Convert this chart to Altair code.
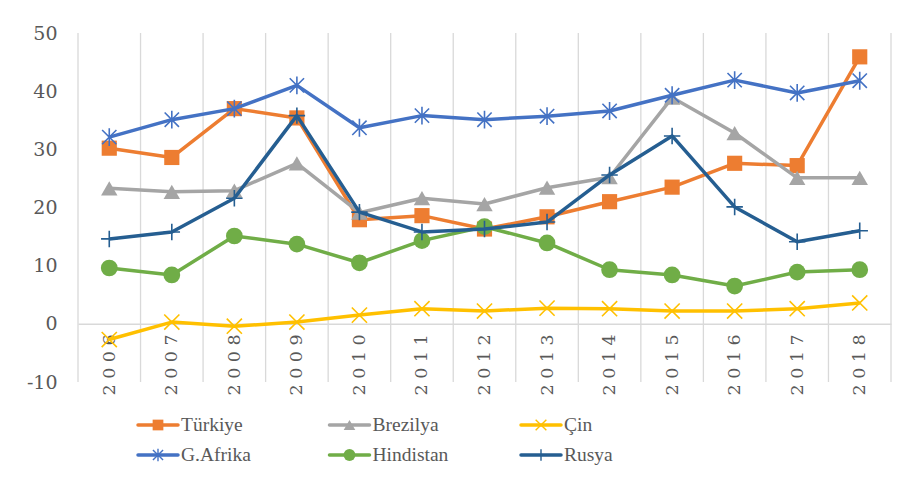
import altair as alt
import pandas as pd

# ---------------- data ----------------
years = list(range(2006, 2019))
series_names = ["Türkiye", "Brezilya", "Çin", "G.Afrika", "Hindistan", "Rusya"]
turkiye = [30.2, 28.6, 37.0, 35.4, 17.9, 18.6, 16.3, 18.4, 21.0, 23.5, 27.6, 27.2, 45.9]
brezilya = [23.3, 22.7, 22.9, 27.6, 19.1, 21.6, 20.6, 23.4, 25.2, 38.9, 32.8, 25.1, 25.1]
cin = [-2.7, 0.3, -0.4, 0.3, 1.5, 2.6, 2.2, 2.7, 2.6, 2.2, 2.2, 2.6, 3.6]
g_afrika = [32.1, 35.1, 37.0, 41.0, 33.7, 35.8, 35.1, 35.7, 36.6, 39.3, 41.9, 39.7, 41.8]
hindistan = [9.6, 8.4, 15.1, 13.7, 10.5, 14.3, 16.7, 13.9, 9.3, 8.4, 6.5, 8.9, 9.3]
rusya = [14.6, 15.8, 21.6, 35.8, 19.2, 15.8, 16.3, 17.5, 25.6, 32.3, 20.1, 14.1, 16.0]
all_values = [turkiye, brezilya, cin, g_afrika, hindistan, rusya]

y_ticks = [-10, 0, 10, 20, 30, 40, 50]
legend_cols = [0, 1, 2, 0, 1, 2]
legend_rows = [0, 0, 0, 1, 1, 1]

# ---------------- styles ----------------
colors = ["#ED7D31", "#A5A5A5", "#FFC000", "#4472C4", "#70AD47", "#255E91"]
shapes = [
    "square",
    "triangle-up",
    "M-1,-1L1,1M-1,1L1,-1",
    "M-0.8,-0.8L0.8,0.8M-0.8,0.8L0.8,-0.8M0,-1L0,1",
    "circle",
    "M-1,0L1,0M0,-1L0,1",
]
sizes = [230, 270, 230, 320, 280, 270]
filled = [True, True, False, False, True, False]
TEXT = "#595959"
GRID = "#d9d9d9"
SERIF = "DejaVu Serif, serif"

W, H = 813, 349

rows = []
for name, vals in zip(series_names, all_values):
    for yr, v in zip(years, vals):
        rows.append({"series": name, "year": yr, "value": v})
df = pd.DataFrame(rows)

x_scale = alt.Scale(domain=[years[0] - 0.5, years[-1] + 0.5], nice=False, zero=False)
y_scale = alt.Scale(domain=[y_ticks[0], y_ticks[-1]], nice=False, zero=False)

zero_offset = -H * (0 - y_ticks[0]) / (y_ticks[-1] - y_ticks[0])

grid_df = pd.DataFrame({"b": [y - 0.5 for y in years] + [years[-1] + 0.5]})
grid = alt.Chart(grid_df).mark_rule(color=GRID, strokeWidth=1.3).encode(
    x=alt.X(
        "b:Q",
        scale=x_scale,
        axis=alt.Axis(
            values=years,
            format="d",
            labelAngle=270,
            labelPadding=10,
            labelFont=SERIF,
            labelFontSize=17.5,
            labelColor=TEXT,
            ticks=False,
            grid=False,
            domain=True,
            domainColor=GRID,
            domainWidth=1.5,
            offset=zero_offset,
            title=None,
            labelOverlap=False,
            labelFlush=False,
            labelExpr="join(split(datum.label, ''), ' ')",
        ),
    ),
    y=alt.Y(datum=y_ticks[0], scale=y_scale, axis=None),
    y2=alt.Y2(datum=y_ticks[-1]),
)

layers = [grid]
for i, (name, color, shape, size, fill) in enumerate(zip(series_names, colors, shapes, sizes, filled)):
    base = alt.Chart(df).transform_filter(alt.datum.series == name)
    y_axis = None
    if i == 0:
        y_axis = alt.Axis(
            values=y_ticks,
            labelFont=SERIF,
            labelFontSize=19,
            labelColor=TEXT,
            ticks=False,
            grid=False,
            domain=False,
            labelPadding=21,
            title=None,
            labelExpr="'' + datum.value",
        )
    enc = dict(
        x=alt.X("year:Q", scale=x_scale, axis=None),
        y=alt.Y("value:Q", scale=y_scale, axis=y_axis),
    )
    line = base.mark_line(color=color, strokeWidth=3.5, strokeJoin="round").encode(**enc)
    pts = base.mark_point(
        shape=shape, size=size, filled=fill, color=color, opacity=1, strokeWidth=1.6
    ).encode(x=enc["x"], y=alt.Y("value:Q", scale=y_scale, axis=None))
    layers += [line, pts]

# ---------------- legend ----------------
leg_df = pd.DataFrame({"series": series_names, "col": legend_cols, "row": legend_rows})
lx = alt.Scale(domain=[0, 2], range=[80, 463])
ly = alt.Scale(domain=[0, 1], range=[392, 422])
for name, color, shape, size, fill in zip(series_names, colors, shapes, sizes, filled):
    lb = alt.Chart(leg_df).transform_filter(alt.datum.series == name)
    lenc = dict(
        x=alt.X("col:Q", scale=lx, axis=None),
        y=alt.Y("row:Q", scale=ly, axis=None),
    )
    seg = lb.mark_point(
        shape="M-1,0L1,0", size=1600, color=color, strokeWidth=3.5, strokeCap="round", opacity=1
    ).encode(**lenc)
    mk = lb.mark_point(
        shape=shape, size=size * 0.5, filled=fill, color=color, opacity=1, strokeWidth=1.4
    ).encode(**lenc)
    txt = lb.mark_text(
        align="left", baseline="middle", dx=23, font="Liberation Serif, serif", fontSize=19.5, color=TEXT
    ).encode(text="series:N", **lenc)
    layers += [seg, mk, txt]

chart = (
    alt.layer(*layers)
    .resolve_scale(x="independent", y="independent")
    .properties(
        width=W,
        height=H,
        autosize=alt.AutoSizeParams(type="none"),
        padding={"left": 70, "top": 25, "right": 6, "bottom": 113},
        background="white",
    )
    .configure_view(stroke=None)
)

chart.save("out.html", embed_options={"renderer": "svg", "actions": False})
